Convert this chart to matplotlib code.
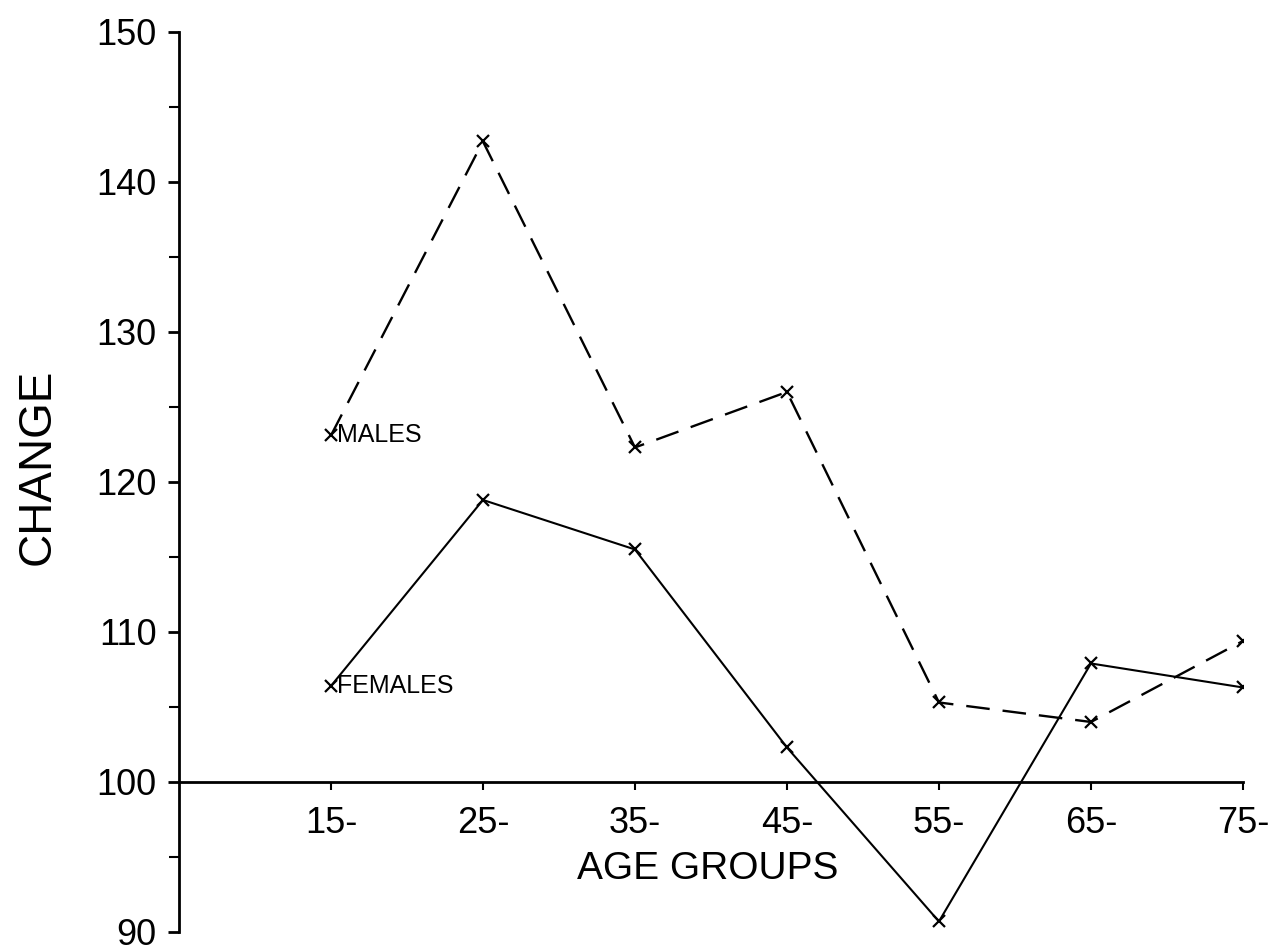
import matplotlib
matplotlib.use("Agg")
import matplotlib.pyplot as plt
from matplotlib.ticker import MultipleLocator

age_groups = ["15-", "25-", "35-", "45-", "55-", "65-", "75-"]
males = [123.1, 142.7, 122.3, 126.0, 105.3, 104.0, 109.4]
females = [106.4, 118.8, 115.5, 102.3, 90.7, 107.9, 106.3]

REG = ["Liberation Sans", "DejaVu Sans"]

fig = plt.figure(figsize=(12.81, 9.51), dpi=100)
ax = fig.add_axes([0.1397, 0.0200, 0.8306, 0.9464])

xs = list(range(1, len(age_groups) + 1))
ax.plot(xs, males, color="black", lw=1.7, linestyle=(0, (10, 5.5)),
        marker="x", markersize=8, markeredgewidth=1.6)
ax.plot(xs, females, color="black", lw=1.5, linestyle="-",
        marker="x", markersize=8, markeredgewidth=1.6)

ax.annotate("MALES", (xs[0], males[0]), xytext=(4, 0), textcoords="offset points",
            ha="left", va="center", fontsize=18, family=REG)
ax.annotate("FEMALES", (xs[0], females[0]), xytext=(4, 0), textcoords="offset points",
            ha="left", va="center", fontsize=18, family=REG)

ax.set_xlim(0, len(age_groups))
ax.set_ylim(90, 150)

for s in ("top", "right"):
    ax.spines[s].set_visible(False)
ax.spines["bottom"].set_position(("data", 100))
ax.spines["bottom"].set_linewidth(2.0)
ax.spines["left"].set_linewidth(2.0)

ax.set_xticks(xs)
ax.set_xticklabels(age_groups, family=REG, fontsize=26)
ax.tick_params(axis="x", direction="out", length=6, width=1.5, pad=11)

ax.yaxis.set_major_locator(MultipleLocator(10))
ax.yaxis.set_minor_locator(MultipleLocator(5))
ax.tick_params(axis="y", which="major", direction="out", length=8, width=2, pad=8)
ax.tick_params(axis="y", which="minor", direction="out", length=7, width=1.5)
for lab in ax.get_yticklabels():
    lab.set_family(REG)
    lab.set_fontsize(26)

fig.text(708 / 1281, 1 - 869 / 951, "AGE GROUPS", ha="center", va="center",
         fontsize=28, family=REG)
fig.text(38 / 1281, 1 - 467 / 951, "CHANGE", ha="center", va="center",
         rotation=90, fontsize=33, family=REG)

fig.savefig("out.png", dpi=100)
